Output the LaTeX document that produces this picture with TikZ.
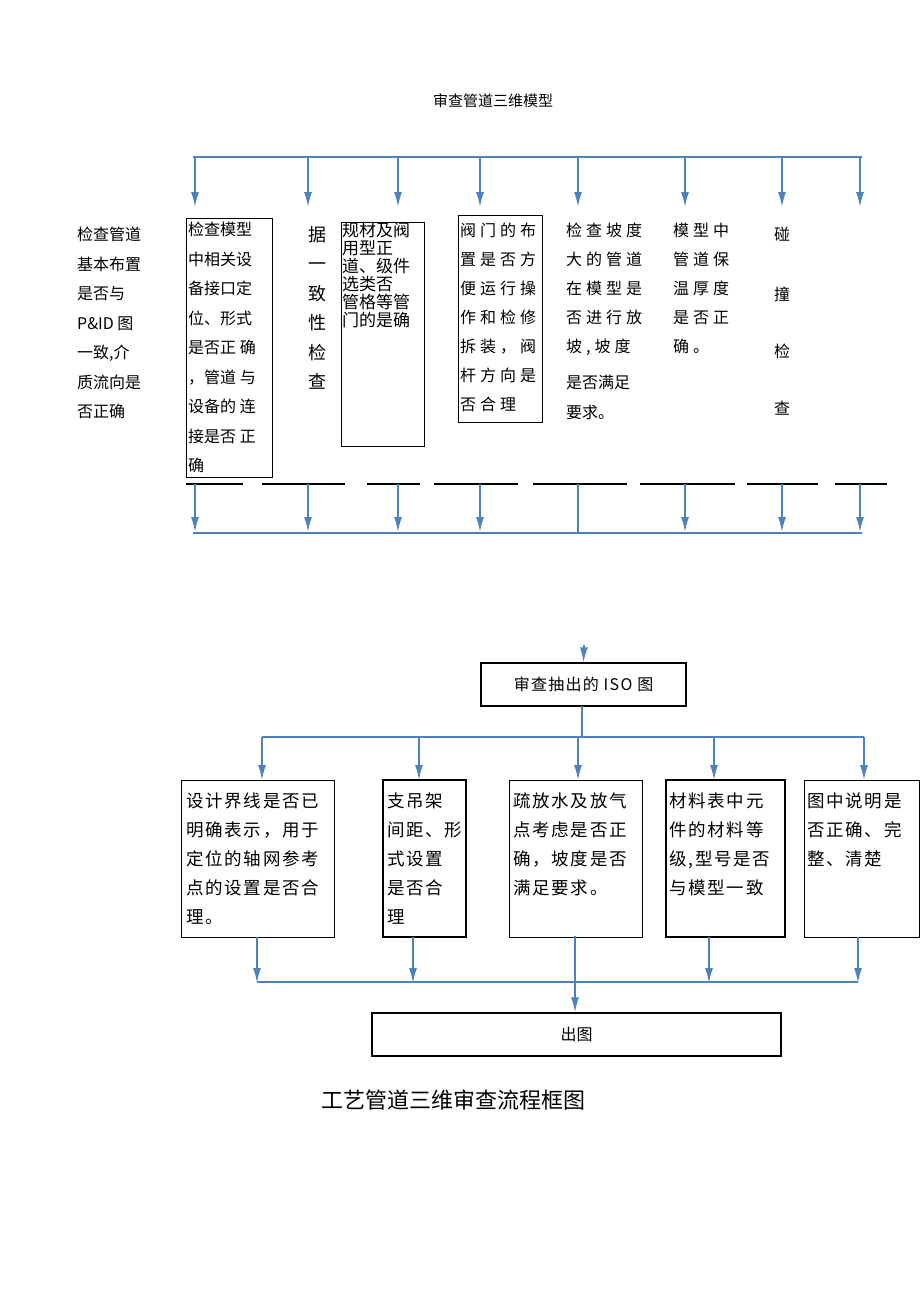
\documentclass[tikz,border=0pt]{standalone}
\usepackage{fontspec}
\setmainfont{Noto Sans CJK SC}
\usetikzlibrary{arrows.meta}
\definecolor{ab}{RGB}{79,129,189}
\begin{document}
\begin{tikzpicture}[x=1pt,y=-1pt,
  ln/.style={ab,line width=1.6pt},
  ar/.style={ab,line width=1.6pt,-{Latex[length=15pt,width=8pt]}},
  bx/.style={draw,line width=0.6pt},
  bxk/.style={draw,line width=1.3pt},
  tx/.style={anchor=north west,inner sep=0pt,align=left,font=\fontsize{16}{29.5}\selectfont},
  tt/.style={anchor=north west,inner sep=0pt,align=left,font=\fontsize{17}{18}\selectfont},
  ts/.style={anchor=north west,inner sep=0pt,align=left,font=\fontsize{16}{29}\selectfont\addfontfeature{LetterSpace=25}},
  tl/.style={anchor=north west,inner sep=0pt,align=left,font=\fontsize{17.5}{29}\selectfont\addfontfeature{LetterSpace=10}}]
\useasboundingbox (0,0) rectangle (920,1301);
\node[font=\fontsize{15}{18}\selectfont] (t1) at (493,101) {审查管道三维模型};
% top bus
\coordinate (L) at (193,157); \coordinate (R) at (862,157);
\draw[ln] (L) -- (R);
\foreach \x [count=\i] in {195,308,398,480,578,685,782,860}{
  \coordinate (a\i) at (\x,157); \coordinate (b\i) at (\x,207);
  \draw[ar] (a\i) -- (b\i);}
% texts
\node[tx] (c0) at (77,227) {检查管道\\基本布置\\是否与\\P\&ID 图\\一致,介\\质流向是\\否正确};
\draw[bx] (186,218) rectangle (272,477);
\node[tx] (c1) at (188,222) {检查模型\\中相关设\\备接口定\\位、形式\\是否正 确\\，管道 与\\设备的 连\\接是否 正\\确};
\node[tx,align=center,font=\fontsize{18}{29.5}\selectfont] (c2) at (308,226) {据\\一\\致\\性\\检\\查};
\draw[bx] (341,222) rectangle (424,446);
\node[tt] (c3) at (342,222) {规材及阀\\用型正\\道、级件\\选类否\\管格等管\\门的是确};
\draw[bx] (458,215) rectangle (542,422);
\node[ts] (c4) at (460,223) {阀门的布\\置是否方\\便运行操\\作和检修\\拆装，阀\\杆方向是\\否合理};
\node[ts] (c5) at (566,223) {检查坡度\\大的管道\\在模型是\\否进行放\\坡,坡度};
\node[tx] (c5b) at (566,375) {是否满足\\要求。};
\node[ts] (c6) at (673,223) {模型中\\管道保\\温厚度\\是否正\\确。};
\node[font=\fontsize{16}{18}\selectfont] (c7a) at (782,234) {碰};
\node[font=\fontsize{16}{18}\selectfont] (c7b) at (782,294) {撞};
\node[font=\fontsize{16}{18}\selectfont] (c7c) at (782,351) {检};
\node[font=\fontsize{16}{18}\selectfont] (c7d) at (782,408) {查};
% underline segments
\foreach \u/\v in {186/243,262/345,367/420,434/518,533/627,640/735,747/818,835/887}
  \draw[line width=1.3pt] (\u,484) -- (\v,484);
\foreach \x [count=\i] in {195,308,398,480,578,685,782,860}{
  \coordinate (d\i) at (\x,484); \coordinate (e\i) at (\x,532);
  \ifnum\i=5 \draw[ln] (d\i) -- (e\i); \else \draw[ar] (d\i) -- (e\i);\fi}
\draw[ln] (193,533) -- (862,533);
% lower part
\coordinate (iso0) at (584,645);
\node[bxk,minimum width=205pt,minimum height=43pt,font=\fontsize{16}{18}\selectfont\addfontfeature{LetterSpace=8}] (iso) at (583.5,684.5) {审查抽出的 ISO 图};
\draw[ar] (iso0) -- (iso.north);
\draw[ln] (582,706) -- (582,737);
\draw[ln] (262,737) -- (864,737);
\foreach \x/\l/\r/\w in {262/181/334/bx,419/383/466/bxk,578/509/642/bx,714/666/785/bxk,864/804/919/bx}{
  \draw[\w] (\l,780) rectangle (\r,937);
  \draw[ar] (\x,737) -- (\x,780);}
\node[tl] (f1) at (186,793) {设计界线是否已\\明确表示，用于\\定位的轴网参考\\点的设置是否合\\理。};
\node[tl] (f2) at (387,793) {支吊架\\间距、形\\式设置\\是否合\\理};
\node[tl] (f3) at (513,793) {疏放水及放气\\点考虑是否正\\确，坡度是否\\满足要求。};
\node[tl] (f4) at (669,793) {材料表中元\\件的材料等\\级,型号是否\\与模型一致};
\node[tl] (f5) at (807,793) {图中说明是\\否正确、完\\整、清楚};
\node[bxk,minimum width=409pt,minimum height=43pt,font=\fontsize{16}{18}\selectfont] (out) at (576.5,1034.5) {出图};
\foreach \x in {257,413,709,858} \draw[ar] (\x,937) -- (\x,983);
\draw[ln] (257,982) -- (858,982);
\draw[ar] (575,936) -- (out.north -| 575,0);
\node[font=\fontsize{22}{26}\selectfont] (title) at (453,1100) {工艺管道三维审查流程框图};
\end{tikzpicture}
\end{document}
